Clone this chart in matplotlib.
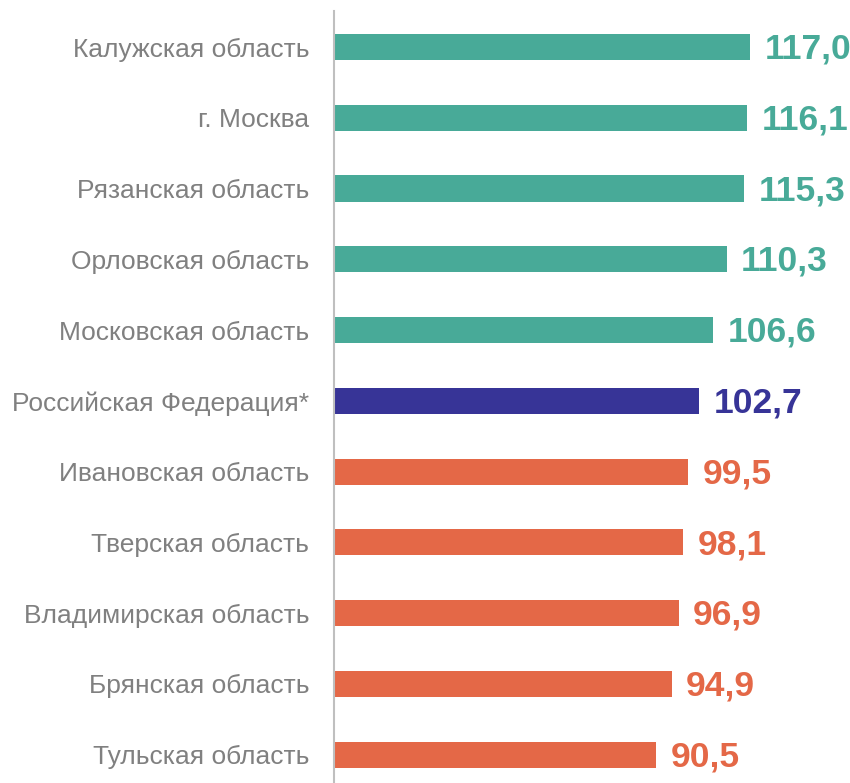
import matplotlib.pyplot as plt

regions = ['Калужская область', 'г. Москва', 'Рязанская область', 'Орловская область',
           'Московская область', 'Российская Федерация*', 'Ивановская область',
           'Тверская область', 'Владимирская область', 'Брянская область', 'Тульская область']
values = [117.0, 116.1, 115.3, 110.3, 106.6, 102.7, 99.5, 98.1, 96.9, 94.9, 90.5]

teal = '#48aa98'
navy = '#373497'
orange = '#e46847'
colors = [teal] * 5 + [navy] + [orange] * 5

plt.rcParams['font.family'] = ['Liberation Sans', 'DejaVu Sans']

fig = plt.figure(figsize=(8.5, 7.83), dpi=100)
ax = fig.add_axes([0.393, 0.0, 0.607, 0.986])

y = list(range(len(values)))
ax.barh(y, values, height=0.37, color=colors)

for i, v in enumerate(values):
    ax.text(v + 4.0, i + 0.03, f'{v:.1f}'.replace('.', ','), va='center', ha='left',
            fontsize=25.5, fontweight='bold', color=colors[i])

ax.set_yticks(y)
ax.set_yticklabels(regions, fontsize=19, color='#808080')
ax.tick_params(axis='y', length=0, pad=18)
ax.set_xticks([])
ax.set_xlim(0, 145)
ax.set_ylim(10.4, -0.51)

for s in ['top', 'right', 'bottom']:
    ax.spines[s].set_visible(False)
ax.spines['left'].set_color('#bfbfbf')
ax.spines['left'].set_linewidth(1.5)

fig.savefig('out.png', dpi=100)
